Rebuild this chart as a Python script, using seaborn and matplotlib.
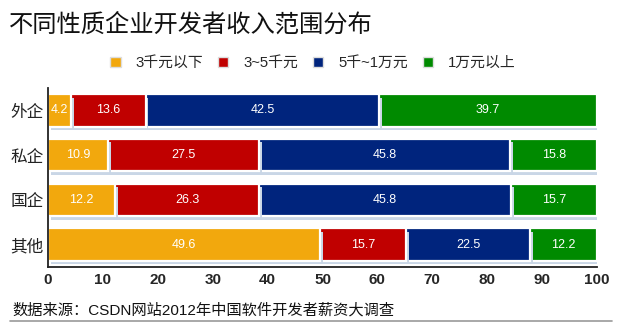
import matplotlib
matplotlib.use("Agg")
import matplotlib.pyplot as plt
import matplotlib.patheffects as pe
from matplotlib.lines import Line2D
from matplotlib.patches import Patch
import seaborn as sns
import pandas as pd
import numpy as np

categories = ["外企", "私企", "国企", "其他"]
series_names = ["3千元以下", "3~5千元", "5千~1万元", "1万元以上"]
s_below3k = [4.2, 10.9, 12.2, 49.6]
s_3to5k = [13.6, 27.5, 26.3, 15.7]
s_5kto10k = [42.5, 45.8, 45.8, 22.5]
s_above10k = [39.7, 15.8, 15.7, 12.2]
xticks = [0, 10, 20, 30, 40, 50, 60, 70, 80, 90, 100]
colors = ["#F2A80D", "#C00000", "#00247D", "#008A00"]

sns.set_theme(style="white")
plt.rcParams["font.family"] = ["Liberation Sans", "Noto Sans CJK SC", "DejaVu Sans"]

series = [s_below3k, s_3to5k, s_5kto10k, s_above10k]
vals = np.array(series)
cum = np.cumsum(vals, axis=0)

fig = plt.figure(figsize=(6.28, 3.33), dpi=100)
ax = fig.add_axes([48 / 628, 1 - 267 / 333, (597 - 48) / 628, 179 / 333])

shadow = [pe.SimplePatchShadow(offset=(2, -2.5), shadow_rgbFace="#c9d6e6", alpha=1), pe.Normal()]
for i in range(len(series) - 1, -1, -1):
    df = pd.DataFrame({"cat": categories, "val": cum[i]})
    sns.barplot(data=df, x="val", y="cat", order=categories, color=colors[i],
                orient="h", width=0.73, edgecolor="white", linewidth=1.6,
                saturation=1, ax=ax)
for p in ax.patches:
    p.set_path_effects(shadow)

for i in range(len(series)):
    for j, c in enumerate(categories):
        start = cum[i][j] - vals[i][j]
        ax.text(start + vals[i][j] / 2, j, f"{vals[i][j]:.1f}", ha="center", va="center",
                color="white", fontsize=9, family=["Liberation Sans", "DejaVu Sans"])

ax.set_xlim(0, 100)
ax.set_ylim(3.5, -0.5)
ax.set_xticks(xticks)
ax.set_xticklabels([str(t) for t in xticks], fontsize=11, fontweight="bold",
                   family=["Liberation Sans", "DejaVu Sans"])
ax.set_yticklabels(categories, fontsize=12, family=["Noto Sans CJK SC"], color="#222222")
ax.set_xlabel("")
ax.set_ylabel("")
ax.tick_params(axis="x", length=0, pad=4)
ax.tick_params(axis="y", length=0, pad=3)
for s in ["top", "right"]:
    ax.spines[s].set_visible(False)
for s in ["left", "bottom"]:
    ax.spines[s].set_color("#222222")
    ax.spines[s].set_linewidth(1.3)

fig.text(9 / 628, 1 - 25 / 333, "不同性质企业开发者收入范围分布", fontsize=17.5,
         family=["Noto Sans CJK SC"], va="center", ha="left", color="#111111")

handles = [Patch(facecolor=colors[i], edgecolor="#dddddd", label=series_names[i]) for i in range(4)]
fig.legend(handles=handles, loc="center", bbox_to_anchor=(313 / 628, 1 - 63 / 333), ncol=4,
           frameon=False, handlelength=0.7, handleheight=0.7,
           columnspacing=1.0, handletextpad=1.0,
           prop={"family": ["Liberation Sans", "Noto Sans CJK SC"], "size": 10.7})

fig.text(12 / 628, 1 - 310 / 333, "数据来源：CSDN网站2012年中国软件开发者薪资大调查", fontsize=11,
         family=["Liberation Sans", "Noto Sans CJK SC"], va="center", ha="left", color="#111111")
fig.add_artist(Line2D([10 / 628, 612 / 628], [1 - 321 / 333, 1 - 321 / 333], color="#999999", lw=1.2))

fig.savefig("out.png", dpi=100)
